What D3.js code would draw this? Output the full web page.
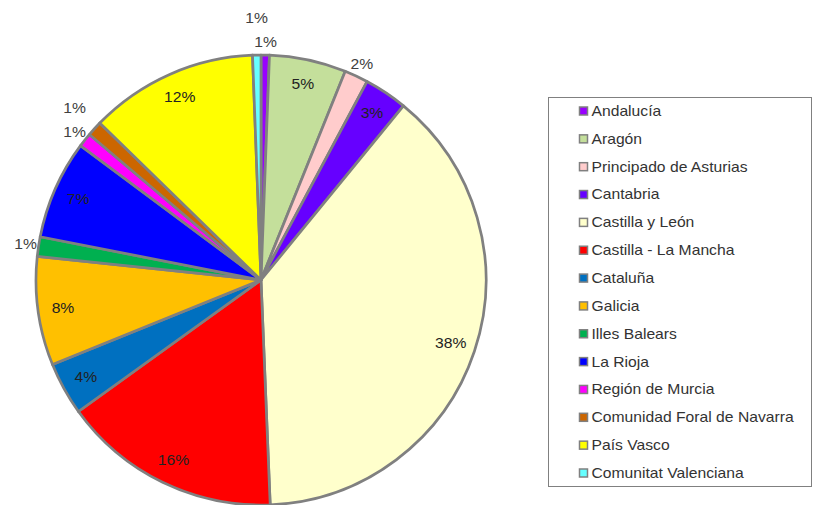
<!DOCTYPE html>
<html>
<head>
<meta charset="utf-8">
<script src="https://cdn.jsdelivr.net/npm/d3@7"></script>
<style>
  body { margin: 0; background: #fff; }
  svg { display: block; font-family: "Liberation Sans", Arial, sans-serif; }
</style>
</head>
<body>
<svg id="chart" width="813" height="505"></svg>
<script>
// data (percent share per region)
const regions = ['Andalucía', 'Aragón', 'Principado de Asturias', 'Cantabria', 'Castilla y León',
    'Castilla - La Mancha', 'Cataluña', 'Galicia', 'Illes Balears', 'La Rioja',
    'Región de Murcia', 'Comunidad Foral de Navarra', 'País Vasco', 'Comunitat Valenciana']
const values = [0.6, 5.5, 1.7, 3.1, 38.4, 15.7, 3.8, 7.8, 1.4, 7.1, 1.0, 1.1, 12.1, 0.6]
const labels = ['1%', '5%', '2%', '3%', '38%', '16%', '4%', '8%', '1%', '7%', '1%', '1%', '12%', '1%']
const colours = ['#9900ff', '#c4df9b', '#ffcccc', '#6600ff', '#ffffcc', '#ff0000', '#0070c0',
    '#ffc000', '#00b050', '#0000ff', '#ff00ff', '#cc6600', '#ffff00', '#66ffff']

const svg = d3.select('#chart')

const cx = 261, cy = 280, radius = 225

// the reference font is a little wider than Liberation Sans
const stretch = 1.12

const color = d3.scaleOrdinal().domain(regions).range(colours)

const pie = d3.pie().sort(null).value(d => d.value)

const data = regions.map((r, i) => ({ region: r, value: values[i], label: labels[i] }))

const arcs = pie(data)

const arc = d3.arc().innerRadius(0).outerRadius(radius)

const inArc = d3.arc().innerRadius(200).outerRadius(200)

const outArc = d3.arc().innerRadius(238).outerRadius(238)

const g = svg.append('g').attr('transform', `translate(${cx},${cy})`)

g.selectAll('path')
    .data(arcs)
    .enter().append('path')
    .attr('d', arc)
    .attr('fill', d => color(d.data.region))
    .attr('stroke', '#808080')
    .attr('stroke-width', 2.7)
    .attr('stroke-linejoin', 'round')

// small slices get their label outside, then a simple dodge so they do not collide
const placed = []

arcs.forEach(d => {

    const outside = d.data.value < 2.5

    let [x, y] = outside ? outArc.centroid(d) : inArc.centroid(d)

    if (outside) {
        for (const p of placed) {
            if (Math.abs(p[0] - x) < 30 && Math.abs(p[1] - y) < 22) {
                y = p[1] - 24
                if (x < -50) x = p[0]
            }
        }
        placed.push([x, y])
    }

    g.append('text')
        .attr('transform', `translate(${x},${y}) scale(${stretch},1)`)
        .attr('dy', '0.35em')
        .attr('text-anchor', 'middle')
        .attr('font-size', '14px')
        .attr('fill', outside ? '#404040' : '#222')
        .text(d.data.label)
})

// legend
const legend = svg.append('g')

legend.append('rect')
    .attr('x', 548.5)
    .attr('y', 97.5)
    .attr('width', 263)
    .attr('height', 389)
    .attr('fill', '#fff')
    .attr('stroke', '#808080')
    .attr('stroke-width', 1)

const rowY = d3.scalePoint().domain(regions).range([111, 473])

const item = legend.selectAll('.item')
    .data(regions)
    .enter().append('g')
    .attr('class', 'item')
    .attr('transform', d => `translate(579.5,${rowY(d)})`)

item.append('rect')
    .attr('x', 0)
    .attr('y', -4)
    .attr('width', 8)
    .attr('height', 8)
    .attr('fill', d => color(d))
    .attr('stroke', '#808080')
    .attr('stroke-width', 1.5)

item.append('text')
    .attr('transform', `translate(12,0) scale(${stretch},1)`)
    .attr('dy', '0.35em')
    .attr('font-size', '14px')
    .attr('fill', '#333')
    .text(d => d)
</script>
</body>
</html>
